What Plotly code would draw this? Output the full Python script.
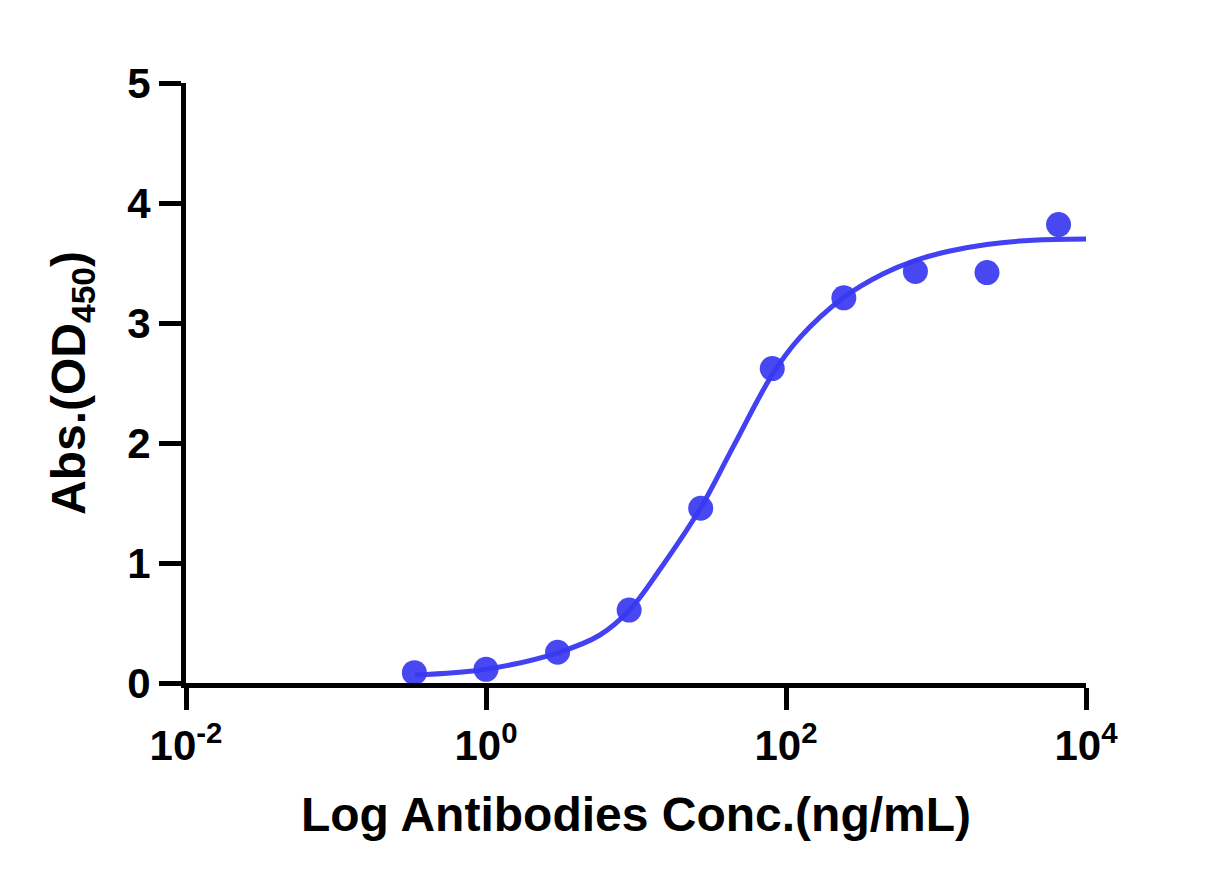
import plotly.graph_objects as go

# Measured data points (concentration in ng/mL, absorbance OD450)
conc = [0.333, 1, 3, 9, 27, 81, 243, 729, 2187, 6561]
od450 = [0.086, 0.114, 0.256, 0.608, 1.456, 2.62, 3.21, 3.43, 3.42, 3.82]

# Fitted curve
curve_conc = [0.336, 1.0, 3.0, 5.75, 9.1, 14.5, 27.0, 44.5, 81.0, 124.0, 241.0, 445.0, 724.0, 1240.0, 2180.0, 4430.0, 10000.0]
curve_od = [0.067, 0.115, 0.252, 0.40, 0.61, 0.95, 1.46, 1.97, 2.57, 2.88, 3.21, 3.41, 3.52, 3.60, 3.655, 3.69, 3.70]

x_tickvals = [0.01, 1, 100, 10000]
x_ticktext = ["10<sup>-2</sup>", "10<sup>0</sup>", "10<sup>2</sup>", "10<sup>4</sup>"]
y_tickvals = [0, 1, 2, 3, 4, 5]

blue = "rgb(56,56,242)"

fig = go.Figure()
fig.add_trace(go.Scatter(
    x=curve_conc, y=curve_od, mode="lines",
    line=dict(color=blue, width=5, shape="spline", smoothing=1.0),
    opacity=0.95, hoverinfo="skip", showlegend=False,
))
fig.add_trace(go.Scatter(
    x=conc, y=od450, mode="markers",
    marker=dict(color=blue, size=25, opacity=0.92, line=dict(width=0)),
    showlegend=False,
))

font_family = "Liberation Sans, Arial, sans-serif"
fig.update_layout(
    width=1228, height=887,
    margin=dict(l=178, r=150, t=75, b=212),
    paper_bgcolor="white", plot_bgcolor="white",
    font=dict(family=font_family, color="black", size=42, weight="bold"),
    xaxis=dict(
        type="log", range=[-2, 4],
        tickvals=x_tickvals, ticktext=x_ticktext,
        showline=True, linecolor="black", linewidth=5,
        ticks="outside", ticklen=22, tickwidth=5, tickcolor="black",
        showgrid=False, zeroline=False,
        tickfont=dict(family=font_family, size=42, color="black", weight="bold"),
        title=dict(text="Log Antibodies Conc.(ng/mL)", standoff=30,
                   font=dict(family=font_family, size=48, color="black", weight="bold")),
        automargin=False,
    ),
    yaxis=dict(
        range=[0, 5], tickvals=y_tickvals,
        showline=True, linecolor="black", linewidth=5,
        ticks="outside", ticklen=22, tickwidth=5, tickcolor="black",
        showgrid=False, zeroline=False,
        tickfont=dict(family=font_family, size=42, color="black", weight="bold"),
        title=dict(text="Abs.(OD<sub>450</sub>)", standoff=28,
                   font=dict(family=font_family, size=48, color="black", weight="bold")),
        automargin=False,
    ),
)

fig.write_html("out.html")
